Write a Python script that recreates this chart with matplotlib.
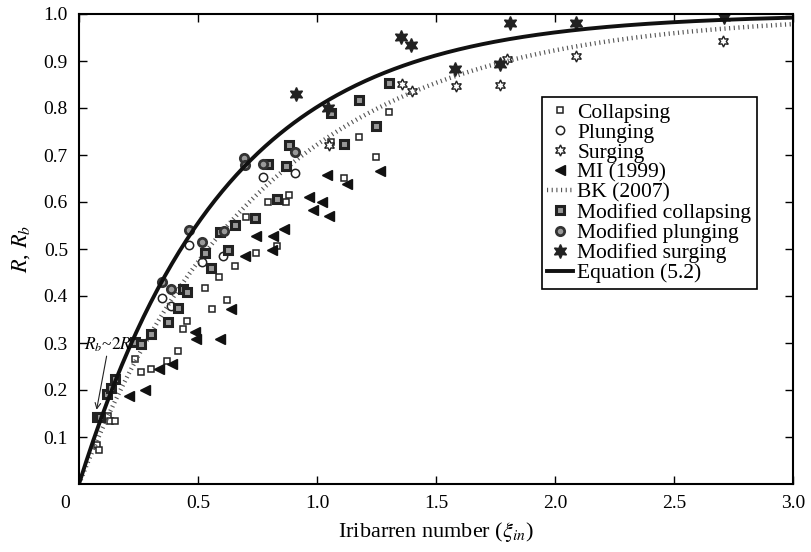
import numpy as np
import matplotlib
matplotlib.use('Agg')
import matplotlib.pyplot as plt
import matplotlib.transforms as mtransforms

plt.rcParams['font.family'] = 'serif'
plt.rcParams['font.serif'] = ['Liberation Serif', 'DejaVu Serif']
plt.rcParams['mathtext.fontset'] = 'stix'

# collapsing (open squares)
col_x = [0.074, 0.083, 0.12, 0.13, 0.151, 0.234, 0.259, 0.304, 0.371, 0.416, 0.436, 0.455,
         0.529, 0.557, 0.588, 0.623, 0.654, 0.70, 0.742, 0.793, 0.832, 0.87, 0.881,
         1.059, 1.112, 1.176, 1.247, 1.304]
col_y = [0.083, 0.072, 0.145, 0.133, 0.133, 0.265, 0.239, 0.244, 0.262, 0.283, 0.33, 0.347,
         0.416, 0.372, 0.441, 0.391, 0.464, 0.569, 0.491, 0.599, 0.506, 0.599, 0.615,
         0.728, 0.652, 0.738, 0.695, 0.792]

# plunging (open circles)
plu_x = [0.349, 0.387, 0.464, 0.515, 0.606, 0.775, 0.908]
plu_y = [0.396, 0.379, 0.509, 0.473, 0.485, 0.653, 0.661]

# surging (open stars)
sur_x = [1.049, 1.358, 1.398, 1.584, 1.77, 1.80, 2.088, 2.707]
sur_y = [0.722, 0.852, 0.837, 0.847, 0.85, 0.905, 0.911, 0.943]

# MI (1999)
mi_x = [0.211, 0.277, 0.335, 0.389, 0.487, 0.49, 0.592, 0.639, 0.697, 0.742, 0.812, 0.817,
        0.861, 0.966, 0.983, 1.021, 1.041, 1.049, 1.125, 1.265]
mi_y = [0.187, 0.20, 0.245, 0.255, 0.324, 0.309, 0.308, 0.372, 0.486, 0.528, 0.498, 0.528,
        0.542, 0.611, 0.583, 0.601, 0.657, 0.570, 0.638, 0.666]

# modified collapsing
mcol_x = [0.074, 0.09, 0.116, 0.134, 0.151, 0.234, 0.259, 0.304, 0.373, 0.416, 0.436, 0.455,
          0.529, 0.556, 0.592, 0.625, 0.654, 0.741, 0.795, 0.832, 0.87, 0.882,
          1.057, 1.113, 1.176, 1.248, 1.304]
mcol_y = [0.142, 0.142, 0.191, 0.204, 0.223, 0.303, 0.297, 0.319, 0.345, 0.374, 0.414, 0.408,
          0.491, 0.459, 0.537, 0.498, 0.552, 0.567, 0.68, 0.606, 0.677, 0.721,
          0.789, 0.723, 0.818, 0.761, 0.854]

# modified plunging
mplu_x = [0.347, 0.387, 0.464, 0.517, 0.609, 0.695, 0.697, 0.775, 0.908]
mplu_y = [0.43, 0.414, 0.54, 0.515, 0.539, 0.693, 0.679, 0.68, 0.706]

# modified surging
msur_x = [0.912, 1.047, 1.355, 1.395, 1.58, 1.77, 1.81, 2.088, 2.71]
msur_y = [0.83, 0.80, 0.952, 0.935, 0.882, 0.893, 0.98, 0.981, 0.994]

xi = np.linspace(0, 3.0, 300)
bk = 1 - np.exp(-1.28 * xi)      # BK (2007)
eq = 1 - np.exp(-1.62 * xi)      # Equation (5.2)

fig = plt.figure(figsize=(8.11, 5.52), dpi=100)
ax = fig.add_axes([79/811, 68/552, 714/811, 470/552])

star = (6, 1, 0)
ax.plot(col_x, col_y, 's', ms=5, mfc='white', mec='#222', mew=1.1, label='Collapsing')
ax.plot(plu_x, plu_y, 'o', ms=6, mfc='white', mec='#222', mew=1.1, label='Plunging')
ax.plot(sur_x, sur_y, marker=star, ls='none', ms=8, mfc='white', mec='#222', mew=1.0, label='Surging')
ax.plot(mi_x, mi_y, '<', ms=7, mfc='#111', mec='#111', label='MI (1999)')
ax.plot(xi, bk, color='#555', lw=3.2, ls=(0, (0.25, 0.8)), label='BK (2007)')
ax.plot(mcol_x, mcol_y, 's', ms=5.5, mfc='#999', mec='#222', mew=2.2, label='Modified collapsing')
ax.plot(mplu_x, mplu_y, 'o', ms=6, mfc='#999', mec='#333', mew=2.0, label='Modified plunging')
ax.plot(msur_x, msur_y, marker=star, ls='none', ms=10, mfc='#222', mec='#222', label='Modified surging')
ax.plot(xi, eq, color='#111', lw=2.8, label='Equation (5.2)')

ax.text(0.022, 0.296, '$R_b$~$2R$', fontsize=12.5, va='center', ha='left')
ax.annotate('', xy=(0.074, 0.158), xytext=(0.116, 0.272), zorder=6,
            arrowprops=dict(arrowstyle='->', color='#222', lw=0.8, shrinkA=0, shrinkB=0))

ax.set_xlim(0, 3.0)
ax.set_ylim(0, 1.0)
ax.set_xticks([0, 0.5, 1.0, 1.5, 2.0, 2.5, 3.0])
ax.set_xticklabels(['0', '0.5', '1.0', '1.5', '2.0', '2.5', '3.0'])
ax.set_yticks([0.1, 0.2, 0.3, 0.4, 0.5, 0.6, 0.7, 0.8, 0.9, 1.0])
ax.set_yticklabels(['0.1', '0.2', '0.3', '0.4', '0.5', '0.6', '0.7', '0.8', '0.9', '1.0'])
ax.tick_params(direction='in', length=6, width=1, top=True, right=True,
               labelsize=14, pad=8)
lab0 = ax.get_xticklabels()[0]
lab0.set_transform(lab0.get_transform() + mtransforms.ScaledTranslation(-0.14, 0, fig.dpi_scale_trans))
for s in ax.spines.values():
    s.set_linewidth(1.5)

ax.set_xlabel(r'Iribarren number ($\xi_{in}$)', fontsize=16, labelpad=6)
ax.set_ylabel(r'$R$, $R_b$', fontsize=16, labelpad=8)

leg = ax.legend(loc='upper left', bbox_to_anchor=(0.648, 0.823), fontsize=15.5,
                frameon=True, fancybox=False, edgecolor='black', framealpha=1,
                handlelength=1.2, handletextpad=0.2, labelspacing=0.0,
                borderpad=0.25, borderaxespad=0)
leg.get_frame().set_linewidth(1.2)

fig.savefig('out.png', dpi=100)
